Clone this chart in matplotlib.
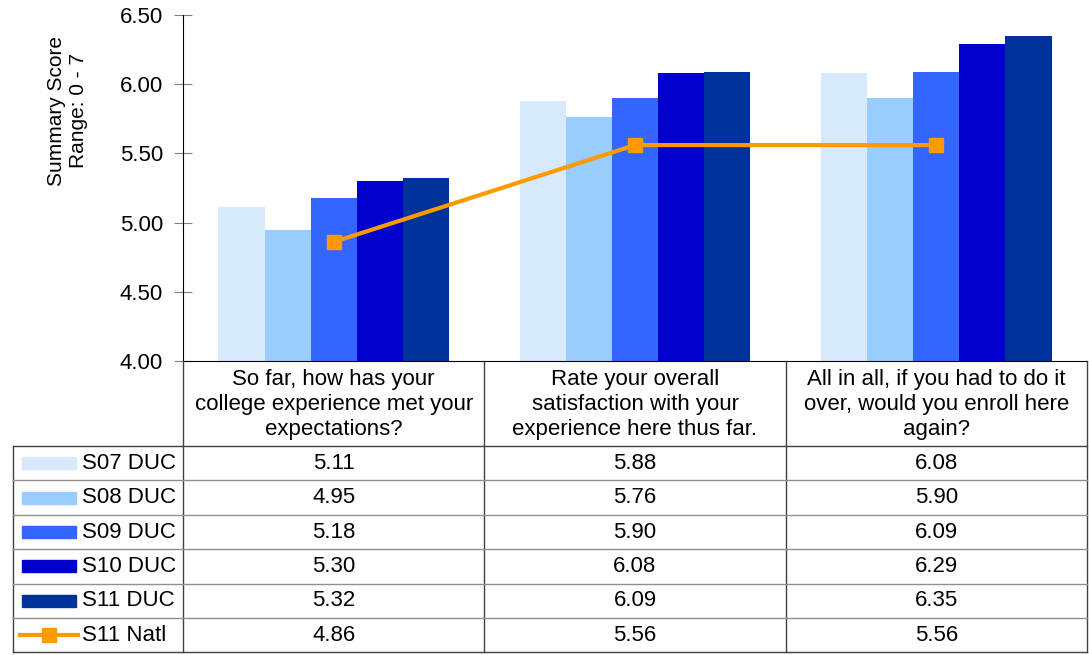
import matplotlib.pyplot as plt
import numpy as np
from matplotlib.lines import Line2D
from matplotlib.patches import Rectangle
from matplotlib.transforms import blended_transform_factory

plt.rcParams['font.family'] = ['Liberation Sans', 'DejaVu Sans']

# Data
categories = [
    "So far, how has your\ncollege experience met your\nexpectations?",
    "Rate your overall\nsatisfaction with your\nexperience here thus far.",
    "All in all, if you had to do it\nover, would you enroll here\nagain?",
]
series_names = ["S07 DUC", "S08 DUC", "S09 DUC", "S10 DUC", "S11 DUC"]
s07 = [5.11, 5.88, 6.08]
s08 = [4.95, 5.76, 5.90]
s09 = [5.18, 5.90, 6.09]
s10 = [5.30, 6.08, 6.29]
s11 = [5.32, 6.09, 6.35]
natl_name = "S11 Natl"
natl = [4.86, 5.56, 5.56]

bar_colors = ["#D6EAFC", "#99CCFF", "#3366FF", "#0000CC", "#003399"]
line_color = "#FF9900"
grid_color = "#404040"

W, H = 1089, 655
fig = plt.figure(figsize=(W / 100, H / 100), dpi=100)


def fy(py):
    return 1 - py / H


ax_left, ax_right, ax_top, ax_bottom = 183, 1087, 15, 361
ax = fig.add_axes([ax_left / W, fy(ax_bottom), (ax_right - ax_left) / W,
                   (ax_bottom - ax_top) / H])

x = np.arange(len(categories))
bw = 0.153
all_series = [s07, s08, s09, s10, s11]
for i, (vals, col) in enumerate(zip(all_series, bar_colors)):
    ax.bar(x + (i - 2) * bw, vals, width=bw, color=col, zorder=2)

ax.plot(x, natl, color=line_color, lw=3, marker='s', markersize=9.5, zorder=3)

ax.set_xlim(-0.5, len(categories) - 0.5)
ax.set_ylim(4.0, 6.5)
yt = np.arange(4.0, 6.51, 0.5)
ax.set_yticks(yt)
ax.set_yticklabels([f"{v:.2f}" for v in yt], fontsize=16)
ax.tick_params(axis='y', direction='inout', length=13, color='#808080', pad=8)
ax.set_xticks([])
for s in ['top', 'right']:
    ax.spines[s].set_visible(False)

fig.text(67 / W, fy(111), "Summary Score\nRange: 0 - 7", rotation=90,
         ha='center', va='center', fontsize=15, linespacing=1.2)

# Data table below the chart
tr = blended_transform_factory(ax.transData, fig.transFigure)
px = len(categories) / (ax_right - ax_left)   # data units per pixel
col_edges = np.arange(len(categories) + 1) - 0.5
label_left = -0.5 - (ax_left - 13) * px
header_bottom = 446
row_h = 34.4
n_rows = len(all_series) + 1
table_bottom = header_bottom + n_rows * row_h


def hline(x0, x1, py, color=grid_color, lw=1):
    fig.add_artist(Line2D([x0, x1], [fy(py), fy(py)], transform=tr,
                          color=color, lw=lw, clip_on=False))


def vline(xd, py0, py1, color=grid_color, lw=1):
    fig.add_artist(Line2D([xd, xd], [fy(py0), fy(py1)], transform=tr,
                          color=color, lw=lw, clip_on=False))


for xe in col_edges:
    vline(xe, ax_bottom, table_bottom)
vline(label_left, header_bottom, table_bottom)
for r in range(n_rows + 1):
    hline(label_left, col_edges[-1], header_bottom + r * row_h,
          color=grid_color if r in (0, n_rows) else '#909090')

for i, cat in enumerate(categories):
    fig.text(x[i], fy((ax_bottom + header_bottom) / 2 + 1), cat, transform=tr,
             ha='center', va='center', fontsize=16, linespacing=1.28)

row_labels = series_names + [natl_name]
row_values = all_series + [natl]
key_x0, key_x1 = label_left + 9 * px, label_left + 63 * px
for r, (lab, vals) in enumerate(zip(row_labels, row_values)):
    cy = header_bottom + (r + 0.5) * row_h
    if r < len(series_names):
        fig.add_artist(Rectangle((key_x0, fy(cy + 6)), key_x1 - key_x0, 12 / H,
                                 transform=tr, color=bar_colors[r], clip_on=False))
    else:
        fig.add_artist(Line2D([key_x0 - 2 * px, key_x1 + 2 * px], [fy(cy), fy(cy)],
                              transform=tr, color=line_color, lw=3, clip_on=False))
        fig.add_artist(Line2D([(key_x0 + key_x1) / 2], [fy(cy)], transform=tr,
                              color=line_color, marker='s', markersize=9.5,
                              clip_on=False))
    fig.text(key_x1 + 6 * px, fy(cy), lab, transform=tr, ha='left',
             va='center', fontsize=16)
    for i, v in enumerate(vals):
        fig.text(x[i], fy(cy), f"{v:.2f}", transform=tr, ha='center',
                 va='center', fontsize=16)

fig.savefig("out.png", dpi=100)
